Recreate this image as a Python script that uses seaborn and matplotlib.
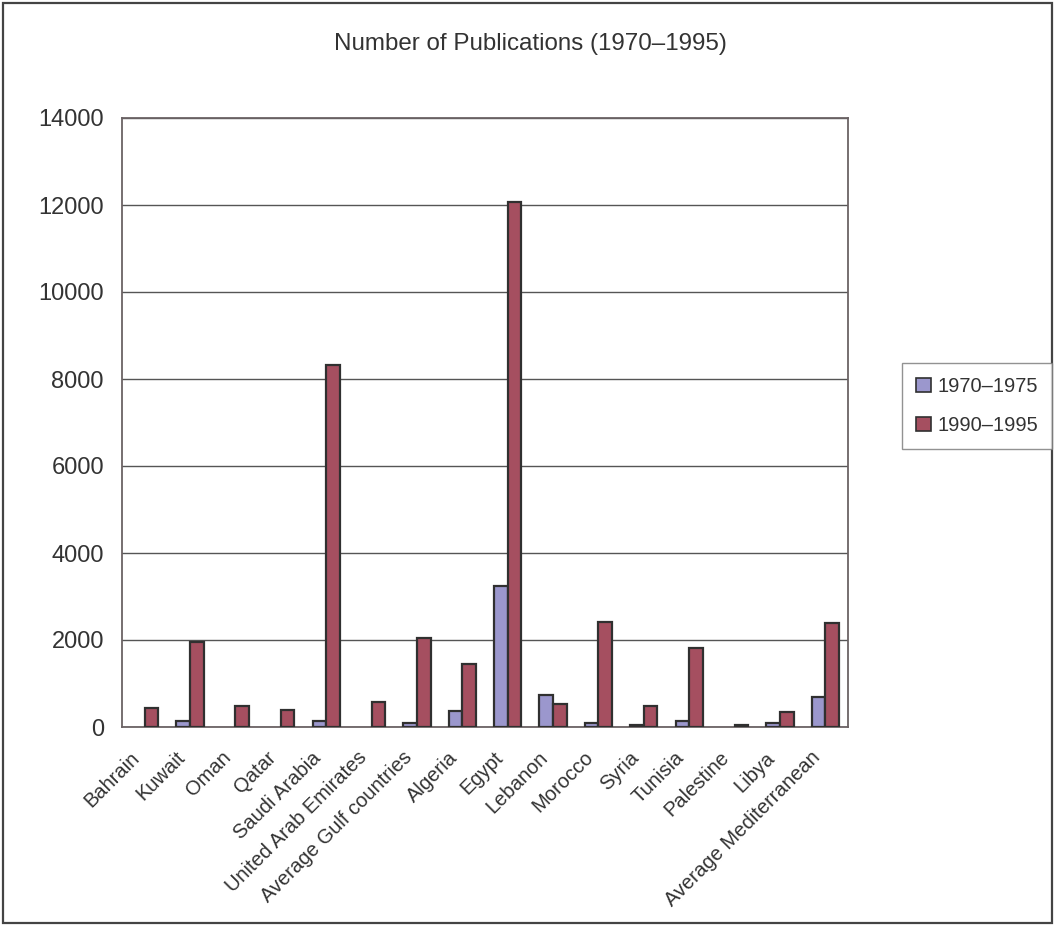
import numpy as np
import pandas as pd
import matplotlib
matplotlib.use("Agg")
import matplotlib.pyplot as plt
import matplotlib.transforms as mtransforms
from matplotlib.patches import Rectangle, Patch
import seaborn as sns

countries = [
    "Bahrain", "Kuwait", "Oman", "Qatar", "Saudi Arabia",
    "United Arab Emirates", "Average Gulf countries", "Algeria", "Egypt",
    "Lebanon", "Morocco", "Syria", "Tunisia", "Palestine", "Libya",
    "Average Mediterranean",
]
pubs_1970_1975 = [np.nan, 140, np.nan, np.nan, 140, np.nan, 95, 360, 3240,
                  740, 95, 50, 140, np.nan, 95, 700]
pubs_1990_1995 = [435, 1960, 490, 400, 8320, 575, 2045, 1445, 12060,
                  525, 2425, 490, 1820, 50, 355, 2390]
periods = ["1970–1975", "1990–1995"]
colors = ["#9B97CD", "#A54F60"]

df = pd.DataFrame({
    "country": countries * 2,
    "period": [periods[0]] * len(countries) + [periods[1]] * len(countries),
    "value": pubs_1970_1975 + pubs_1990_1995,
})

sns.set_theme(style="white")
plt.rcParams["font.family"] = ["Liberation Sans", "DejaVu Sans"]
text_color = "#333333"

fig = plt.figure(figsize=(10.56, 9.26), dpi=100)
ax = fig.add_axes([122 / 1056, 1 - 727 / 926, (848 - 122) / 1056, (727 - 118) / 926])

sns.barplot(data=df, x="country", y="value", hue="period", order=countries,
            hue_order=periods, palette=colors, saturation=1, width=0.6,
            edgecolor="#303030", linewidth=1.6, errorbar=None, legend=False,
            ax=ax, zorder=3)

ax.set_ylim(0, 14000)
ax.set_yticks(np.arange(0, 14001, 2000))
ax.set_xlim(-0.5, len(countries) - 0.5)
ax.yaxis.grid(True, color="#555555", linewidth=1.0, zorder=0)
ax.set_axisbelow(True)
ax.set_xlabel("")
ax.set_ylabel("")
ax.tick_params(axis="y", labelsize=17, labelcolor=text_color, length=0, pad=13)
ax.tick_params(axis="x", labelsize=14.5, labelcolor=text_color, length=0, pad=20)

# rotated category labels, right end tucked just left of each group
shift = mtransforms.ScaledTranslation(-8 / 100, 0, fig.dpi_scale_trans)
for lbl in ax.get_xticklabels():
    lbl.set_rotation(45)
    lbl.set_ha("right")
    lbl.set_va("center")
    lbl.set_rotation_mode("anchor")
    lbl.set_transform(lbl.get_transform() + shift)

for s in ax.spines.values():
    s.set_color("#6B6365")
    s.set_linewidth(1.3)

fig.text(530 / 1056, 1 - 44 / 926, "Number of Publications (1970–1995)",
         ha="center", va="center", fontsize=17.4, color=text_color)

handles = [Patch(facecolor=c, edgecolor="#303030", linewidth=1.2) for c in colors]
leg = fig.legend(handles, periods, loc="center", bbox_to_anchor=(977 / 1056, 1 - 406 / 926),
                 fontsize=14.5, frameon=True, fancybox=False, handlelength=0.75,
                 handleheight=0.75, handletextpad=0.3, labelspacing=1.0,
                 borderpad=0.7, borderaxespad=0)
leg.get_frame().set_edgecolor("#777777")
leg.get_frame().set_linewidth(1.0)
for t in leg.get_texts():
    t.set_color(text_color)

fig.patches.append(Rectangle((3 / 1056, 3 / 926), 1049 / 1056, 920 / 926,
                             transform=fig.transFigure, fill=False,
                             edgecolor="#444444", linewidth=1.6))

fig.savefig("out.png", dpi=100, facecolor="white")
